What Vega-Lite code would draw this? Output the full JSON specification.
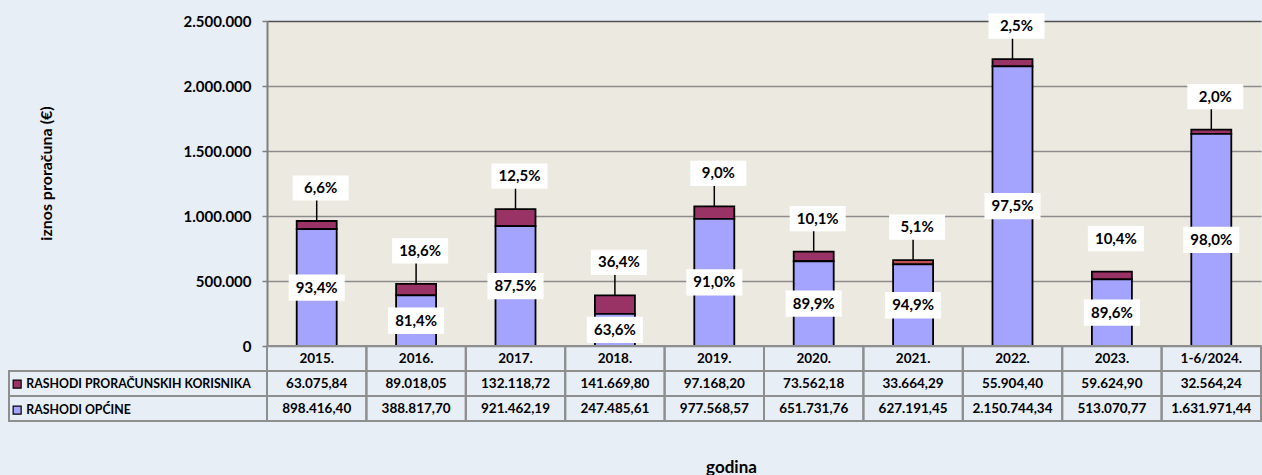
{
  "$schema": "https://vega.github.io/schema/vega-lite/v6.json",
  "background": "#E8EEF6",
  "padding": {"left": 8, "top": 13, "right": 0, "bottom": 0},
  "config": {
    "locale": {"number": {"decimal": ",", "thousands": ".", "grouping": [3], "currency": ["", " €"]}},
    "view": {"stroke": null},
    "font": "Lato",
    "text": {"font": "Lato"}
  },
  "datasets": {
    "d": [
      {"year": "2015.", "korisnika": 63075.84, "opcine": 898416.40, "pctK": 0.066, "pctO": 0.934},
      {"year": "2016.", "korisnika": 89018.05, "opcine": 388817.70, "pctK": 0.186, "pctO": 0.814},
      {"year": "2017.", "korisnika": 132118.72, "opcine": 921462.19, "pctK": 0.125, "pctO": 0.875},
      {"year": "2018.", "korisnika": 141669.80, "opcine": 247485.61, "pctK": 0.364, "pctO": 0.636},
      {"year": "2019.", "korisnika": 97168.20, "opcine": 977568.57, "pctK": 0.090, "pctO": 0.910},
      {"year": "2020.", "korisnika": 73562.18, "opcine": 651731.76, "pctK": 0.101, "pctO": 0.899},
      {"year": "2021.", "korisnika": 33664.29, "opcine": 627191.45, "pctK": 0.051, "pctO": 0.949},
      {"year": "2022.", "korisnika": 55904.40, "opcine": 2150744.34, "pctK": 0.025, "pctO": 0.975},
      {"year": "2023.", "korisnika": 59624.90, "opcine": 513070.77, "pctK": 0.104, "pctO": 0.896},
      {"year": "1-6/2024.", "korisnika": 32564.24, "opcine": 1631971.44, "pctK": 0.020, "pctO": 0.980}
    ]
  },
  "columns": 2,
  "spacing": 0,
  "bounds": "flush",
  "resolve": {"scale": {"color": "independent"}, "legend": {"color": "independent"}},
  "concat": [
    {
      "width": 258,
      "height": 325,
      "data": {"values": [{"k": 1}]},
      "mark": {"type": "text"},
      "encoding": {"text": {"value": ""}}
    },
    {
      "width": 994,
      "height": 325,
      "view": {"fill": "#ECEAE0", "stroke": null},
      "data": {"name": "d"},
      "resolve": {"scale": {"y": "independent"}, "axis": {"y": "independent"}},
      "layer": [
        {
          "transform": [{"fold": ["korisnika", "opcine"], "as": ["series", "value"]}],
          "mark": {"type": "bar", "width": 40, "stroke": "black", "strokeWidth": 1.8},
          "encoding": {
            "x": {"field": "year", "type": "nominal", "sort": null, "scale": {"paddingInner": 0, "paddingOuter": 0}, "axis": null},
            "y": {
              "field": "value", "type": "quantitative", "stack": "zero",
              "scale": {"domain": [0, 2500000], "nice": false},
              "axis": {
                "values": [0, 500000, 1000000, 1500000, 2000000, 2500000],
                "format": ",.0f",
                "labelFont": "Lato", "labelFontSize": 15, "labelFontWeight": "bold", "labelColor": "black",
                "labelPadding": 11, "tickSize": 5, "tickColor": "#7F7F7F", "tickWidth": 1.5,
                "domainColor": "#7F7F7F", "domainWidth": 2,
                "grid": true, "gridWidth": 1.5,
                "gridColor": {"condition": {"test": "datum.value === 2500000", "value": "#505050"}, "value": "#8C8C8C"},
                "title": "iznos proračuna (€)",
                "titleFont": "Lato", "titleFontSize": 16, "titleFontWeight": "bold", "titleColor": "black",
                "titleX": -221, "titleY": 152, "titleBaseline": "middle", "titleAlign": "center", "titleAngle": 270
              }
            },
            "color": {
              "field": "series", "type": "nominal",
              "condition": {"test": "datum.year === '2021.' && datum.series === 'korisnika'", "value": "#C0504D"},
              "scale": {"domain": ["korisnika", "opcine"], "range": ["#993366", "#A4A4FF"]},
              "legend": {
                "orient": "none", "legendX": -256, "legendY": 357, "title": null, "direction": "vertical",
                "symbolType": "square", "symbolSize": 64, "symbolStrokeColor": "black", "symbolStrokeWidth": 1.2,
                "symbolOpacity": 1,
                "labelFont": "Lato", "labelFontSize": 12.3, "labelFontWeight": "bold", "labelColor": "black",
                "labelLimit": 400, "rowPadding": 12, "labelOffset": 3, "padding": 0,
                "labelExpr": "datum.value === 'korisnika' ? 'RASHODI PRORAČUNSKIH KORISNIKA' : 'RASHODI OPĆINE'"
              }
            },
            "order": {"field": "series", "sort": "descending"}
          }
        },
        {
          "transform": [{"fold": ["korisnika", "opcine"], "as": ["series", "value"]}],
          "mark": {"type": "rule", "color": "black", "strokeWidth": 1.5, "y2Offset": -21},
          "encoding": {
            "x": {"field": "year", "type": "nominal", "sort": null},
            "y": {"aggregate": "sum", "field": "value", "type": "quantitative", "scale": {"domain": [0, 2500000], "nice": false}, "axis": null},
            "y2": {"aggregate": "sum", "field": "value"},
            "opacity": {"condition": {"test": "datum.year === '2023.'", "value": 0}, "value": 1}
          }
        },
        {
          "transform": [{"fold": ["korisnika", "opcine"], "as": ["series", "value"]}],
          "mark": {"type": "point", "shape": "M-1,-0.45H1V0.45H-1Z", "size": 3136, "filled": true, "color": "white", "opacity": 1, "strokeWidth": 0, "yOffset": -33, "xOffset": 4},
          "encoding": {
            "x": {"field": "year", "type": "nominal", "sort": null},
            "y": {"aggregate": "sum", "field": "value", "type": "quantitative", "scale": {"domain": [0, 2500000], "nice": false}, "axis": null},
            "detail": {"field": "pctK", "type": "quantitative"}
          }
        },
        {
          "transform": [{"fold": ["korisnika", "opcine"], "as": ["series", "value"]}],
          "mark": {"type": "text", "font": "Lato", "fontSize": 15, "fontWeight": "bold", "color": "black", "baseline": "middle", "yOffset": -33, "xOffset": 4},
          "encoding": {
            "x": {"field": "year", "type": "nominal", "sort": null},
            "y": {"aggregate": "sum", "field": "value", "type": "quantitative", "scale": {"domain": [0, 2500000], "nice": false}, "axis": null},
            "text": {"field": "pctK", "type": "quantitative", "format": ".1%"}
          }
        },
        {
          "mark": {"type": "point", "shape": "M-1,-0.47H1V0.47H-1Z", "size": 3136, "filled": true, "color": "white", "opacity": 1, "strokeWidth": 0},
          "encoding": {
            "x": {"field": "year", "type": "nominal", "sort": null},
            "y": {"field": "opcine", "type": "quantitative", "scale": {"domain": [0, 5000000], "nice": false}, "axis": null}
          }
        },
        {
          "mark": {"type": "text", "font": "Lato", "fontSize": 15, "fontWeight": "bold", "color": "black", "baseline": "middle"},
          "encoding": {
            "x": {"field": "year", "type": "nominal", "sort": null},
            "y": {"field": "opcine", "type": "quantitative", "scale": {"domain": [0, 5000000], "nice": false}, "axis": null},
            "text": {"field": "pctO", "type": "quantitative", "format": ".1%"}
          }
        }
      ]
    },
    {
      "width": 258,
      "height": 75,
      "data": {"values": [{"series": "korisnika"}, {"series": "opcine"}]},
      "mark": {"type": "rect", "fill": null, "stroke": "#8E8E8E", "strokeWidth": 2},
      "encoding": {
        "y": {"field": "series", "type": "nominal", "scale": {"domain": ["hdr", "korisnika", "opcine"], "paddingInner": 0, "paddingOuter": 0}, "axis": null}
      }
    },
    {
      "width": 994,
      "height": 75,
      "data": {"name": "d"},
      "encoding": {
        "x": {
          "field": "year", "type": "nominal", "sort": null,
          "scale": {"paddingInner": 0, "paddingOuter": 0},
          "axis": {
            "orient": "bottom", "labels": false, "ticks": false, "domain": false, "grid": false,
            "title": "godina", "titleFont": "Lato", "titleFontSize": 17, "titleFontWeight": "bold", "titleColor": "black",
            "titleX": 464, "titleY": 46, "titleBaseline": "middle", "titleAlign": "center"
          }
        }
      },
      "layer": [
        {
          "mark": {"type": "rect", "fill": null, "stroke": "#8E8E8E", "strokeWidth": 2},
          "encoding": {
            "y": {"datum": "hdr", "type": "nominal", "scale": {"domain": ["hdr", "korisnika", "opcine"], "paddingInner": 0, "paddingOuter": 0}, "axis": null}
          }
        },
        {
          "mark": {"type": "text", "font": "Lato", "fontSize": 13.5, "fontWeight": "bold", "color": "black", "baseline": "middle"},
          "encoding": {
            "y": {"datum": "hdr", "type": "nominal"},
            "text": {"field": "year", "type": "nominal"}
          }
        },
        {
          "transform": [{"fold": ["korisnika", "opcine"], "as": ["series", "value"]}],
          "mark": {"type": "rect", "fill": null, "stroke": "#8E8E8E", "strokeWidth": 2},
          "encoding": {
            "y": {"field": "series", "type": "nominal"}
          }
        },
        {
          "transform": [{"fold": ["korisnika", "opcine"], "as": ["series", "value"]}],
          "mark": {"type": "text", "font": "Lato", "fontSize": 13.5, "fontWeight": "bold", "color": "black", "baseline": "middle"},
          "encoding": {
            "y": {"field": "series", "type": "nominal"},
            "text": {"field": "value", "type": "quantitative", "format": ",.2f"}
          }
        }
      ]
    }
  ]
}
